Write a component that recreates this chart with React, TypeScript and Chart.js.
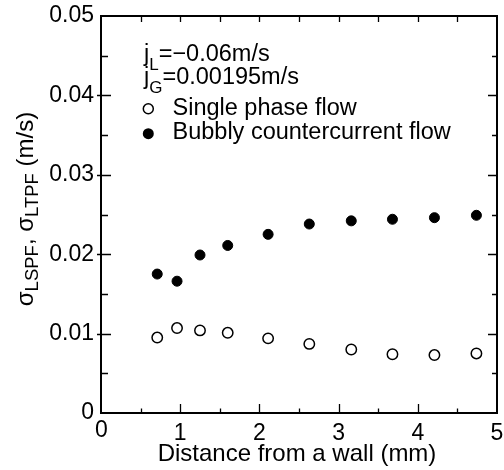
import React, { useEffect, useRef } from 'react';
import { Chart, registerables } from 'chart.js';

Chart.register(...registerables);

// ---- data ----
const distanceMm = [0.71, 0.96, 1.25, 1.6, 2.11, 2.63, 3.16, 3.68, 4.21, 4.74];
const singlePhase = [0.0095, 0.0107, 0.0104, 0.0101, 0.0094, 0.0087, 0.008, 0.0074, 0.0073, 0.0075];
const bubbly = [0.0175, 0.0166, 0.0199, 0.0211, 0.0225, 0.0238, 0.0242, 0.0244, 0.0246, 0.0249];

const xTickValues = [0, 1, 2, 3, 4, 5];
const xTickLabels = ['0', '1', '2', '3', '4', '5'];
const xMinorValues = [0.5, 1.5, 2.5, 3.5, 4.5];
const yTickValues = [0, 0.01, 0.02, 0.03, 0.04, 0.05];
const yTickLabels = ['0', '0.01', '0.02', '0.03', '0.04', '0.05'];
const yMinorValues = [0.005, 0.015, 0.025, 0.035, 0.045];

const FONT = '"Liberation Sans", Arial, Helvetica, sans-serif';

type Seg = { t: string; sub?: boolean };

function drawRich(ctx: CanvasRenderingContext2D, segs: Seg[], x: number, y: number, size: number, subSize: number, drop: number, measureOnly = false) {
  let cx = x;
  for (const s of segs) {
    ctx.font = `${s.sub ? subSize : size}px ${FONT}`;
    if (!measureOnly) ctx.fillText(s.t, cx, y + (s.sub ? drop : 0));
    cx += ctx.measureText(s.t).width;
  }
  return cx - x;
}

const zeroPad = (s: any) => {
  s.paddingLeft = 0;
  s.paddingRight = 0;
  s.paddingTop = 0;
  s.paddingBottom = 0;
};

const framePlugin = {
  id: 'framePlugin',
  afterDraw(chart: any) {
    const { ctx, chartArea } = chart;
    const { left, right, top, bottom } = chartArea;
    const xs = chart.scales.x;
    const ys = chart.scales.y;
    ctx.save();
    ctx.strokeStyle = '#000';
    ctx.fillStyle = '#000';
    // ticks
    ctx.lineWidth = 1.3;
    ctx.beginPath();
    const tickX = (vals: number[], lenBottom: number, lenTop: number) => {
      for (const v of vals) {
        const px = Math.round(xs.getPixelForValue(v)) + 0.5;
        ctx.moveTo(px, bottom);
        ctx.lineTo(px, bottom - lenBottom);
        ctx.moveTo(px, top);
        ctx.lineTo(px, top + lenTop);
      }
    };
    const tickY = (vals: number[], lenLeft: number, outLeft: number, lenRight: number) => {
      for (const v of vals) {
        const py = Math.round(ys.getPixelForValue(v)) + 0.5;
        ctx.moveTo(left - outLeft, py);
        ctx.lineTo(left + lenLeft, py);
        ctx.moveTo(right, py);
        ctx.lineTo(right - lenRight, py);
      }
    };
    tickX(xTickValues.slice(1, -1), 9, 6);
    tickX(xMinorValues, 4.5, 6);
    tickY(yTickValues.slice(1, -1), 10, 4, 9);
    tickY(yMinorValues, 7, 0, 5);
    ctx.stroke();
    // frame
    ctx.lineWidth = 2;
    ctx.strokeRect(left, top, right - left, bottom - top);

    // x zero label (offset like original)
    ctx.font = `23px ${FONT}`;
    ctx.textAlign = 'center';
    ctx.textBaseline = 'alphabetic';
    ctx.fillText(xTickLabels[0], xs.getPixelForValue(xTickValues[0]) + 0.5, 437);

    // annotation
    ctx.textAlign = 'left';
    drawRich(ctx, [{ t: 'j' }, { t: 'L', sub: true }, { t: '=\u22120.06m/s' }], 144, 61, 23.5, 17, 9);
    drawRich(ctx, [{ t: 'j' }, { t: 'G', sub: true }, { t: '=0.00195m/s' }], 144, 84, 23.5, 17, 9);
    // legend
    ctx.lineWidth = 1.5;
    ctx.beginPath();
    ctx.arc(148.3, 108.7, 5, 0, Math.PI * 2);
    ctx.fillStyle = '#fff';
    ctx.fill();
    ctx.stroke();
    ctx.fillStyle = '#000';
    ctx.beginPath();
    ctx.arc(148.3, 133.7, 5.5, 0, Math.PI * 2);
    ctx.fill();
    ctx.font = `23.5px ${FONT}`;
    ctx.fillText('Single phase flow', 172.5, 115);
    ctx.fillText('Bubbly countercurrent flow', 172.5, 139);

    // x title
    ctx.font = `24px ${FONT}`;
    ctx.textAlign = 'center';
    ctx.fillText('Distance from a wall (mm)', 297, 461);

    // y title (rotated)
    ctx.textAlign = 'left';
    const ySegs: Seg[] = [
      { t: '\u03c3' }, { t: 'LSPF', sub: true }, { t: ', \u03c3' }, { t: 'LTPF', sub: true }, { t: ' (m/s)' },
    ];
    const w = drawRich(ctx, ySegs, 0, 0, 24, 18.5, 5, true);
    ctx.translate(33, 209);
    ctx.rotate(-Math.PI / 2);
    drawRich(ctx, ySegs, -w / 2, 0, 24, 18.5, 5);
    ctx.restore();
  },
};

export default function App() {
  const ref = useRef<HTMLCanvasElement | null>(null);
  useEffect(() => {
    document.body.style.margin = '0';
    const canvas = ref.current!;
    const chart = new Chart(canvas, {
      type: 'scatter',
      data: {
        datasets: [
          {
            label: 'Single phase flow',
            data: distanceMm.map((x, i) => ({ x, y: singlePhase[i] })),
            backgroundColor: '#fff',
            borderColor: '#000',
            borderWidth: 1.5,
            pointRadius: 5.2,
            pointHoverRadius: 5.2,
          },
          {
            label: 'Bubbly countercurrent flow',
            data: distanceMm.map((x, i) => ({ x, y: bubbly[i] })),
            backgroundColor: '#000',
            borderColor: '#000',
            borderWidth: 1,
            pointRadius: 5,
            pointHoverRadius: 5,
          },
        ],
      },
      options: {
        responsive: false,
        animation: false,
        layout: { padding: { top: 16, right: 7, left: 0, bottom: 0 } },
        plugins: { legend: { display: false }, tooltip: { enabled: false } },
        events: [],
        scales: {
          x: {
            type: 'linear',
            min: 0,
            max: 5,
            afterBuildTicks: (s: any) => {
              s.ticks = xTickValues.map((v) => ({ value: v }));
            },
            afterFit: (s: any) => {
              s.height = 57;
              zeroPad(s);
            },
            grid: { display: false, drawTicks: false },
            border: { display: false },
            ticks: {
              padding: 7,
              color: '#000',
              font: { family: FONT, size: 23 },
              maxRotation: 0,
              autoSkip: false,
              callback: (v: any, i: number) => (i === 0 ? '' : xTickLabels[i]),
            },
          },
          y: {
            type: 'linear',
            min: 0,
            max: 0.05,
            afterBuildTicks: (s: any) => {
              s.ticks = yTickValues.map((v) => ({ value: v }));
            },
            afterFit: (s: any) => {
              s.width = 101;
              zeroPad(s);
            },
            grid: { display: false, drawTicks: false },
            border: { display: false },
            ticks: {
              padding: 7,
              color: '#000',
              font: { family: FONT, size: 23 },
              autoSkip: false,
              callback: (v: any, i: number) => yTickLabels[i],
            },
          },
        },
      },
      plugins: [framePlugin],
    });
    return () => chart.destroy();
  }, []);
  return (
    <div style={{ width: 504, height: 470 }}>
      <canvas ref={ref} width={504} height={470} />
    </div>
  );
}
